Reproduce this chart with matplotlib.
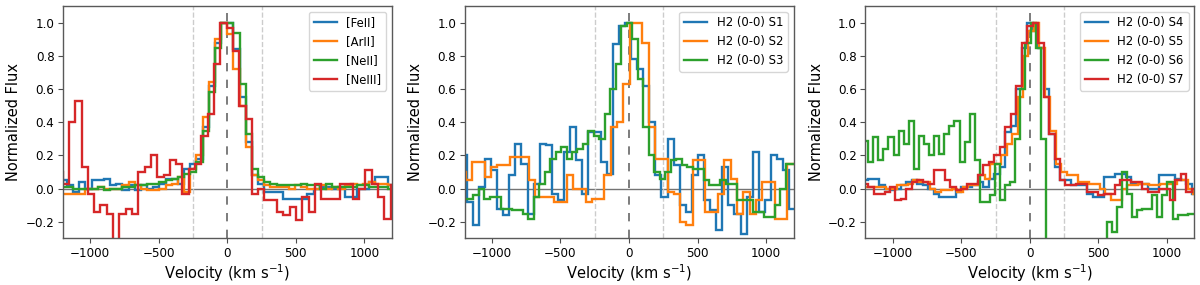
import numpy as np
import matplotlib as mpl
import matplotlib.pyplot as plt
mpl.use('agg')


##--##--##--  normalized line profiles, flux per velocity bin (km/s)  --##--##--##
## each profile: first bin edge, bin width, flux values

## panel 1 : ionic lines
fe2_v0, fe2_dv = -1215, 45
fe2 = [0.05, 0.02, -0.02, 0.04, 0.00, 0.05, 0.05, 0.06, 0.02, 0.03,
       -0.01, 0.02, -0.01, 0.02, 0.00, 0.01, 0.03, 0.06, 0.06, 0.03,
       0.12, 0.15, 0.18, 0.37, 0.62, 0.88, 1.00, 1.00, 0.84, 0.55,
       0.28, 0.08, 0.03, -0.02, -0.02, -0.02, -0.06, -0.06, -0.06, -0.06,
       -0.03, 0.00, 0.01, 0.01, 0.00, 0.01, -0.05, -0.05, 0.00, 0.00,
       0.04, 0.07, 0.07, 0.02]

ar2_v0, ar2_dv = -1215, 45
ar2 = [-0.03, -0.03, -0.03, -0.03, 0.00, 0.00, 0.01, 0.00, 0.00, 0.00,
       0.02, 0.04, 0.02, 0.00, -0.01, -0.01, 0.00, 0.02, 0.03, 0.07,
       -0.02, 0.12, 0.20, 0.43, 0.64, 0.90, 1.00, 0.93, 0.72, 0.50,
       0.25, 0.08, 0.05, 0.02, 0.01, 0.01, 0.01, 0.00, 0.02, 0.01,
       0.00, 0.00, 0.02, 0.00, 0.01, 0.00, 0.02, 0.03, 0.02, 0.03,
       0.04, 0.03, 0.03, 0.02]

ne2_v0, ne2_dv = -1215, 45
ne2 = [0.01, 0.01, 0.00, 0.00, 0.00, 0.00, 0.01, -0.01, 0.00, 0.00,
       0.01, 0.01, 0.02, 0.02, 0.03, 0.03, 0.04, 0.05, 0.06, 0.07,
       0.09, 0.10, 0.16, 0.35, 0.58, 0.85, 1.00, 1.00, 0.94, 0.63,
       0.33, 0.12, 0.07, 0.04, 0.03, 0.02, 0.02, 0.02, 0.02, 0.03,
       0.02, 0.02, 0.00, 0.03, 0.01, 0.01, 0.01, 0.01, 0.02, 0.02,
       0.01, 0.01, 0.01, 0.00]

ne3_v0, ne3_dv = -1247, 46
ne3 = [0.10, 0.03, 0.40, 0.53, 0.13, -0.03, -0.14, -0.10, -0.15, -0.40,
       -0.15, -0.12, -0.15, 0.10, 0.13, 0.20, 0.07, 0.08, 0.17, 0.15,
       -0.03, 0.12, 0.15, 0.32, 0.45, 0.75, 1.00, 0.97, 0.83, 0.50,
       0.42, -0.03, 0.00, -0.07, -0.07, -0.14, -0.16, -0.11, -0.19, -0.05,
       -0.14, 0.03, -0.06, -0.06, -0.06, 0.03, 0.03, -0.06, 0.00, 0.11,
       0.03, -0.05, -0.18, 0.02]

## panel 2 : H2 S1-S3
s1_v0, s1_dv = -1229, 44.4
s1 = [0.20, -0.08, -0.22, 0.01, 0.18, 0.11, -0.12, -0.16, 0.08, 0.27,
      0.15, -0.15, 0.03, 0.27, 0.26, -0.03, -0.07, 0.22, 0.37, 0.17,
      -0.03, 0.34, 0.34, 0.16, 0.09, 0.87, 0.98, 1.00, 0.78, 0.72,
      0.62, 0.40, 0.08, -0.05, 0.30, 0.14, -0.10, -0.14, 0.08, 0.20,
      -0.07, -0.13, -0.25, 0.13, -0.10, -0.15, -0.27, -0.05, 0.22, -0.14,
      -0.07, 0.20, 0.18, 0.11, -0.12]

s2_v0, s2_dv = -1237, 46
s2 = [0.10, 0.05, 0.16, 0.16, 0.07, 0.13, 0.14, 0.14, 0.19, 0.19,
      0.19, 0.05, -0.05, -0.05, -0.05, -0.08, -0.08, 0.08, 0.00, 0.00,
      -0.08, -0.06, -0.06, 0.08, 0.37, 0.40, 0.63, 1.00, 1.00, 0.88,
      0.37, 0.18, 0.18, -0.02, -0.03, -0.20, -0.22, 0.17, 0.17, -0.14,
      -0.14, -0.03, 0.17, 0.06, -0.15, -0.02, -0.15, -0.07, 0.04, 0.04,
      -0.18, -0.18, 0.15]

s3_v0, s3_dv = -1216, 40
s3 = [-0.06, -0.06, -0.04, 0.00, -0.06, -0.05, -0.05, -0.12, -0.12, -0.13,
      -0.13, -0.15, -0.18, -0.05, 0.03, 0.10, 0.18, 0.22, 0.25, 0.18,
      0.22, 0.24, 0.27, 0.35, 0.32, 0.30, 0.45, 0.60, 0.75, 0.98,
      1.00, 0.90, 0.66, 0.37, 0.20, 0.10, 0.06, 0.10, 0.17, 0.18,
      0.14, 0.13, 0.12, 0.12, 0.05, 0.02, 0.02, 0.05, 0.03, 0.03,
      -0.07, -0.07, -0.07, -0.14, -0.14, -0.17, -0.17, -0.10, 0.00, 0.15,
      0.15]

## panel 3 : H2 S4-S7
s4_v0, s4_dv = -1220, 40
s4 = [0.05, 0.06, 0.06, 0.02, 0.00, -0.01, 0.00, 0.02, 0.04, 0.05,
      0.03, 0.02, 0.00, -0.03, -0.05, -0.05, -0.05, -0.02, 0.01, 0.01,
      0.02, 0.04, 0.01, 0.06, 0.09, 0.13, 0.34, 0.38, 0.60, 0.85,
      1.00, 0.95, 0.85, 0.60, 0.33, 0.13, 0.05, 0.05, 0.02, 0.02,
      0.02, -0.03, -0.05, -0.05, 0.07, 0.07, 0.09, 0.09, 0.07, 0.03,
      0.03, 0.03, 0.00, 0.00, 0.08, 0.08, 0.08, 0.06, 0.05, 0.03,
      -0.03]

s5_v0, s5_dv = -1210, 40
s5 = [0.01, 0.01, 0.01, 0.01, 0.00, 0.00, 0.02, 0.02, 0.03, 0.05,
      0.04, 0.04, 0.00, -0.02, -0.01, -0.01, 0.00, -0.02, 0.01, 0.02,
      0.02, 0.08, 0.06, 0.15, 0.15, 0.20, 0.27, 0.33, 0.55, 0.80,
      0.95, 1.00, 0.85, 0.55, 0.35, 0.15, 0.10, 0.08, 0.08, 0.04,
      0.04, 0.03, 0.03, 0.00, -0.03, -0.07, -0.07, 0.00, 0.02, 0.02,
      0.03, 0.03, 0.02, 0.02, 0.03, 0.03, 0.03, 0.05, 0.05, 0.00,
      -0.03]

s6_v0, s6_dv = -1216, 37
s6 = [0.29, 0.16, 0.31, 0.17, 0.24, 0.31, 0.20, 0.35, 0.27, 0.41,
      0.12, 0.32, 0.27, 0.20, 0.32, 0.21, 0.33, 0.38, 0.41, 0.16,
      0.28, 0.45, 0.17, -0.08, -0.08, -0.04, 0.15, -0.07, 0.02, 0.04,
      0.30, 0.60, 0.88, 1.00, 0.85, 0.30, -0.60, -0.60, -0.60, -0.60,
      -0.60, -0.60, -0.60, -0.60, -0.60, -0.60, -0.60, -0.35, -0.20, -0.26,
      -0.11, 0.10, -0.03, -0.17, -0.13, -0.12, -0.12, -0.04, -0.17, -0.04,
      0.04, -0.18, -0.16, -0.16, -0.15, -0.15]

s7_v0, s7_dv = -1220, 40
s7 = [0.03, 0.01, -0.03, -0.03, -0.02, 0.01, -0.07, -0.06, 0.00, 0.04,
      0.05, 0.04, 0.03, 0.11, 0.11, 0.05, 0.01, -0.01, 0.00, 0.03,
      0.03, 0.08, 0.14, 0.16, 0.20, 0.25, 0.37, 0.45, 0.62, 0.88,
      0.98, 1.00, 0.88, 0.55, 0.33, 0.18, 0.05, 0.02, 0.02, 0.03,
      0.03, -0.02, -0.02, -0.04, -0.03, -0.03, 0.02, 0.05, 0.05, 0.04,
      0.04, 0.00, -0.02, -0.02, 0.00, 0.00, -0.07, 0.05, 0.09, -0.02,
      0.00]


## Define a panel function
def create_map(ax):
  ax.axhline(0, color='0.45', linewidth=1.0, zorder=1)
  ax.axvline(0, color='0.4', linewidth=1.2, linestyle=(0, (5, 5)), zorder=1)
  ax.axvline(-250, color='0.8', linewidth=1.0, linestyle='--', zorder=1)
  ax.axvline(250, color='0.8', linewidth=1.0, linestyle='--', zorder=1)
  ax.set_xlim(-1200, 1200)
  ax.set_ylim(-0.3, 1.1)
  ax.set_xticks([-1000, -500, 0, 500, 1000])
  ax.set_yticks([-0.2, 0.0, 0.2, 0.4, 0.6, 0.8, 1.0])
  ax.tick_params(axis='both', length=3.5, width=0.8, labelsize=8.6, color='0.3', pad=2.5)
  for s in ax.spines.values():
    s.set_color('0.35')
    s.set_linewidth(1.0)
  ax.set_xlabel(r'Velocity (km s$^{-1}$)', size=10.5, labelpad=1.5)
  ax.set_ylabel('Normalized Flux', size=10.5, labelpad=3)
  return ax

def draw_line(ax, v0, dv, flux, label, color):
  edges = v0 + dv*np.arange(len(flux)+1)
  ax.stairs(flux, edges, baseline=None, color=color, linewidth=1.7, label=label, zorder=2)


##--##--##--  create figure  --##--##--##
fig = plt.figure(figsize=(12, 2.85), dpi=100)

ax1 = fig.add_axes([0.0523, 0.1632, 0.2742, 0.8158])
create_map(ax1)
draw_line(ax1, fe2_v0, fe2_dv, fe2, '[FeII]', 'tab:blue')
draw_line(ax1, ar2_v0, ar2_dv, ar2, '[ArII]', 'tab:orange')
draw_line(ax1, ne2_v0, ne2_dv, ne2, '[NeII]', 'tab:green')
draw_line(ax1, ne3_v0, ne3_dv, ne3, '[NeIII]', 'tab:red')
ax1.legend(loc='upper right', fontsize=8.4)

ax2 = fig.add_axes([0.3871, 0.1632, 0.2742, 0.8158])
create_map(ax2)
draw_line(ax2, s1_v0, s1_dv, s1, 'H2 (0-0) S1', 'tab:blue')
draw_line(ax2, s2_v0, s2_dv, s2, 'H2 (0-0) S2', 'tab:orange')
draw_line(ax2, s3_v0, s3_dv, s3, 'H2 (0-0) S3', 'tab:green')
ax2.legend(loc='upper right', fontsize=8.4)

ax3 = fig.add_axes([0.7211, 0.1632, 0.2742, 0.8158])
create_map(ax3)
draw_line(ax3, s4_v0, s4_dv, s4, 'H2 (0-0) S4', 'tab:blue')
draw_line(ax3, s5_v0, s5_dv, s5, 'H2 (0-0) S5', 'tab:orange')
draw_line(ax3, s6_v0, s6_dv, s6, 'H2 (0-0) S6', 'tab:green')
draw_line(ax3, s7_v0, s7_dv, s7, 'H2 (0-0) S7', 'tab:red')
ax3.legend(loc='upper right', fontsize=8.4)

fig.savefig('out.png', dpi=100)
